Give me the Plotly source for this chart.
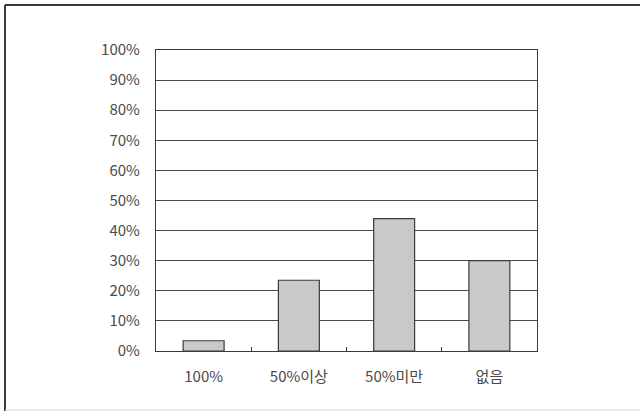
import plotly.graph_objects as go

categories = ["100%", "50%이상", "50%미만", "없음"]
values = [3.4, 23.5, 44.0, 30.0]
y_ticks = [0, 10, 20, 30, 40, 50, 60, 70, 80, 90, 100]
y_tick_labels = [f"{v}%" for v in y_ticks]

W, H = 640, 412
L, R, T, B = 156, 537, 50, 351

fig = go.Figure()
fig.add_trace(go.Bar(
    x=categories, y=values,
    width=0.43,
    marker=dict(color="#c9c9c9", line=dict(color="#3a3a3a", width=1.2)),
    hoverinfo="skip",
))

def px_x(p):
    return (p - L) / (R - L)

def px_y(p):
    return (B - p) / (B - T)

font_family = "Noto Sans CJK KR, DejaVu Sans, sans-serif"

fig.update_layout(
    width=W, height=H,
    margin=dict(l=L, r=W - R, t=T, b=H - B),
    paper_bgcolor="white", plot_bgcolor="white",
    showlegend=False,
    font=dict(family=font_family, size=15, color="#4a4a4a"),
    xaxis=dict(
        type="category",
        showline=True, linecolor="#3a3a3a", linewidth=1.2, mirror=True,
        ticks="inside", ticklen=4, tickcolor="#3a3a3a", tickwidth=1,
        tickson="boundaries",
        showgrid=False,
        tickfont=dict(family=font_family, size=15, color="#4a4a4a"),
        ticklabelstandoff=12,
    ),
    yaxis=dict(
        range=[0, 100],
        tickvals=y_ticks, ticktext=y_tick_labels,
        showline=True, linecolor="#3a3a3a", linewidth=1.2, mirror=True,
        showgrid=True, gridcolor="#4a4a4a", gridwidth=1,
        ticks="", zeroline=False,
        tickfont=dict(family=font_family, size=15, color="#4a4a4a"),
        ticklabelstandoff=12,
    ),
    shapes=[
        dict(type="line", xref="paper", yref="paper",
             x0=px_x(5), x1=px_x(660), y0=px_y(5), y1=px_y(5),
             line=dict(color="#3a3a3a", width=2)),
        dict(type="line", xref="paper", yref="paper",
             x0=px_x(5), x1=px_x(5), y0=px_y(5), y1=px_y(411),
             line=dict(color="#3a3a3a", width=2)),
        dict(type="line", xref="paper", yref="paper",
             x0=px_x(5), x1=px_x(660), y0=px_y(410), y1=px_y(410),
             line=dict(color="#d8d8d8", width=1)),
    ],
)

fig.write_html("out.html")
